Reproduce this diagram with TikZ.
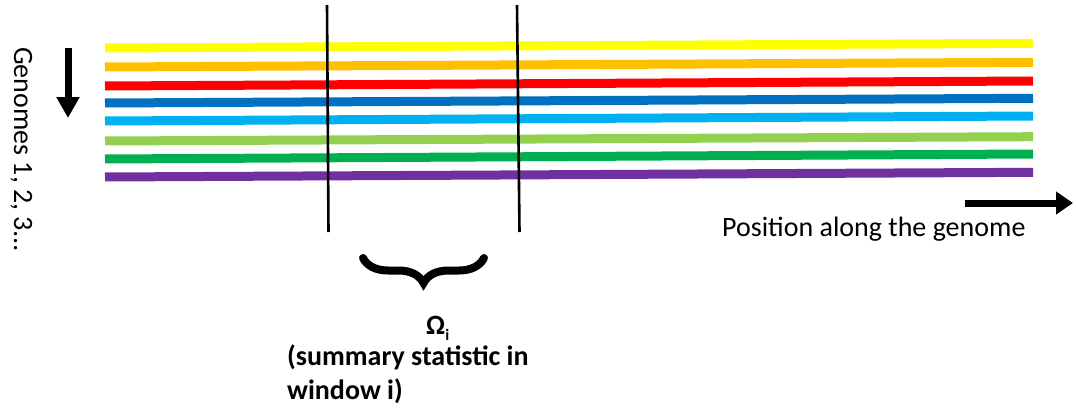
\documentclass[tikz,border=0pt]{standalone}
\usepackage{fontspec}
\setmainfont{Carlito}
\usetikzlibrary{arrows.meta,decorations.pathreplacing}
\definecolor{gyellow}{HTML}{FFFF00}
\definecolor{gorange}{HTML}{FFC000}
\definecolor{gred}{HTML}{FF0000}
\definecolor{gdblue}{HTML}{0070C0}
\definecolor{glblue}{HTML}{00B0F0}
\definecolor{glgreen}{HTML}{92D050}
\definecolor{ggreen}{HTML}{00B050}
\definecolor{gpurple}{HTML}{7030A0}
\tikzset{
  genome/.style={line width=9pt, line cap=butt},
  window/.style={line width=2.6pt, black},
  bigarrow/.style={line width=7pt, black, -{Triangle[length=#1, width=22pt]}},
  lbl/.style={inner sep=0pt, font=\fontsize{28}{32}\selectfont},
  blbl/.style={inner sep=0pt, font=\fontsize{28}{32}\selectfont\bfseries},
}
\begin{document}
\begin{tikzpicture}[x=1pt,y=-1pt]
\useasboundingbox (0,0) rectangle (1076,412);
% genomes
\foreach \c/\yl/\yr [count=\k] in {gyellow/48/43.3, gorange/67/62.3, gred/86/81, gdblue/103/98.3, glblue/121/116, glgreen/141/136.7, ggreen/159/154, gpurple/177/172.3}{
  \coordinate (gl\k) at (105,\yl);
  \coordinate (gr\k) at (1033,\yr);
  \draw[genome, \c] (gl\k) -- (gr\k);
}
% window lines
\coordinate (w1t) at (327,5);
\coordinate (w1b) at (328.5,232);
\coordinate (w2t) at (517,5);
\coordinate (w2b) at (519.5,232);
\draw[window] (w1t) -- (w1b);
\draw[window] (w2t) -- (w2b);
% arrows
\coordinate (da1) at (68,48);
\coordinate (da2) at (68,118);
\draw[bigarrow=21pt] (da1) -- (da2);
\coordinate (ra1) at (965,203);
\coordinate (ra2) at (1073,203);
\draw[bigarrow=17pt] (ra1) -- (ra2);
% labels
\node[lbl, rotate=-90, anchor=base west] (genlbl) at (14,47) {Genomes 1, 2, 3…};
\node[lbl, anchor=base west] (poslbl) at (722,236) {Position along the genome};
% brace
\coordinate (br1) at (484,258);
\coordinate (br2) at (363,258);
\draw[line width=8pt, line cap=round, decorate, decoration={brace, amplitude=25pt, aspect=0.5}] (br1) -- (br2);
\node[blbl, anchor=base west] (omega) at (426,334) {Ω\raisebox{-6pt}{\fontsize{16}{16}\selectfont i}};
\node[blbl, anchor=base west] (sum1) at (287,365) {(summary statistic in};
\node[blbl, anchor=base west] (sum2) at (287,399) {window i)};
\end{tikzpicture}
\end{document}
